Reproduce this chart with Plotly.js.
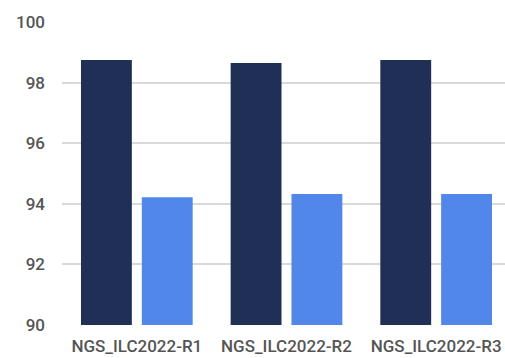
<!DOCTYPE html>
<html>
<head>
<meta charset="utf-8">
<script src="https://cdn.plot.ly/plotly-3.0.1.min.js"></script>
<style>
  html, body { margin: 0; padding: 0; background: #ffffff; }
  #chart { width: 505px; height: 358px; }
</style>
</head>
<body>
<div id="chart"></div>
<script>
// Rounds of the NGS interlaboratory comparison
const categories = ['NGS_ILC2022-R1', 'NGS_ILC2022-R2', 'NGS_ILC2022-R3'];
// Two series per round
const seriesA = [98.75, 98.65, 98.75];
const seriesB = [94.22, 94.32, 94.32];
const yTicks = [90, 92, 94, 96, 98, 100];

const font = { family: 'Roboto, "Liberation Sans", Arial, sans-serif', size: 17, color: '#555555', weight: 500 };

const traces = [
  { type: 'bar', x: categories, y: seriesA, marker: { color: '#1f2f56' }, hoverinfo: 'x+y' },
  { type: 'bar', x: categories, y: seriesB, marker: { color: '#5187e8' }, hoverinfo: 'x+y' }
];

const layout = {
  width: 505,
  height: 358,
  margin: { l: 62, r: 0, t: 22, b: 33, pad: 0 },
  paper_bgcolor: '#ffffff',
  plot_bgcolor: '#ffffff',
  showlegend: false,
  barmode: 'group',
  bargap: 0.187,
  bargroupgap: 0.164,
  font: font,
  xaxis: {
    type: 'category',
    range: [-0.5, 2.46],
    showgrid: false,
    zeroline: false,
    showline: false,
    ticks: '',
    ticklabelstandoff: 9,
    tickfont: font,
    fixedrange: true
  },
  yaxis: {
    range: [90, 100],
    tickvals: yTicks,
    ticktext: yTicks.map(String),
    showgrid: true,
    gridcolor: '#d9d9d9',
    gridwidth: 2,
    zeroline: false,
    showline: false,
    ticks: '',
    ticklabelstandoff: 16,
    tickfont: font,
    fixedrange: true
  }
};

Plotly.newPlot('chart', traces, layout, { displayModeBar: false, staticPlot: true });
</script>
</body>
</html>
